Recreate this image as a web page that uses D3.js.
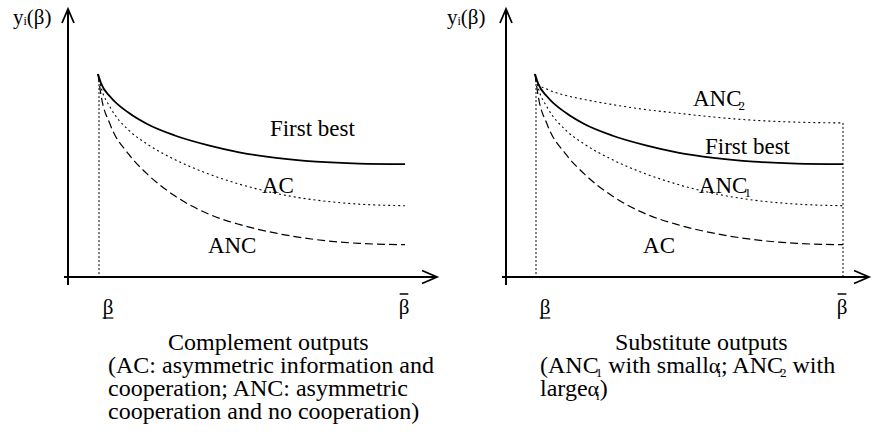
<!DOCTYPE html>
<html>
<head>
<meta charset="utf-8">
<script src="https://cdn.jsdelivr.net/npm/d3@7"></script>
<style>
  body { margin: 0; background: #fff; }
  svg text { font-family: "Liberation Serif", "Times New Roman", "DejaVu Serif", serif; fill: #000; }
</style>
</head>
<body>
<svg id="chart" width="872" height="446" font-family="Liberation Serif, Times New Roman, DejaVu Serif, serif"></svg>
<script>
// ── data (y in arbitrary units, 0 = x axis) ────────────────────────────────
const betaGrid   = [0, 0.01, 0.04, 0.1, 0.16, 0.25, 0.36, 0.46, 0.58, 0.71, 0.85, 1];
const firstBest  = [76, 72.5, 67.5, 61.5, 57.3, 53, 49.3, 46.7, 44.6, 43.2, 42.5, 42.3];
const midDotted  = [76, 71, 63.5, 55, 49.8, 44, 38.6, 34.8, 31.3, 28.8, 27.3, 26.7];   // AC (left) / ANC1 (right)
const lowDashed  = [76, 68, 57, 46, 38.6, 30.4, 23.6, 19.7, 16.4, 14, 12.6, 12.1];    // ANC (left) / AC (right)
const highDotted = [76, 72.3, 70.3, 68, 66.5, 64.6, 62.7, 61.4, 59.9, 58.7, 58.0, 57.7]; // ANC2 (right)

const leftCaption = ["Complement outputs", "(AC: asymmetric information and",
                     "cooperation; ANC: asymmetric", "cooperation and no cooperation)"];

// curve labels, placed in data space [beta, y]
const leftLabels = [
  { parts: ["First best"], at: [0.56, 52.8] },
  { parts: ["AC"],         at: [0.534, 31.5] },
  { parts: ["ANC"],        at: [0.358, 9.0] }
];
const rightLabels = [
  { parts: ["ANC", { sub: "2" }], at: [0.513, 64.0] },
  { parts: ["First best"],        at: [0.552, 46.1] },
  { parts: ["ANC", { sub: "1" }], at: [0.532, 31.5] },
  { parts: ["AC"],                at: [0.351, 9.0] }
];

// ── shared scales ───────────────────────────────────────────────────────
const svg = d3.select("#chart");
const yScale = d3.scaleLinear().domain([0, 100]).range([277, 10]);
const FONT = "Liberation Serif, Times New Roman, DejaVu Serif, serif";

const panels = [
  {
    axisX: 68, xRange: [98, 405], arrowEnd: 437, yLabelX: 13, endLine: false,
    curves: [
      { values: firstBest, dash: null,  width: 1.8 },
      { values: midDotted, dash: "2,3", width: 1.1 },
      { values: lowDashed, dash: "8,4", width: 1.2 }
    ],
    labels: leftLabels
  },
  {
    axisX: 506, xRange: [535, 843], arrowEnd: 869, yLabelX: 447, endLine: true,
    curves: [
      { values: highDotted, dash: "2,3", width: 1.1 },
      { values: firstBest,  dash: null,  width: 1.8 },
      { values: midDotted,  dash: "2,3", width: 1.1 },
      { values: lowDashed,  dash: "8,4", width: 1.2 }
    ],
    labels: rightLabels
  }
];

// text with subscripts that tuck under the previous glyph a little
function richText(g, x, y, parts, size) {
  const t = g.append("text").attr("x", x).attr("y", y)
    .attr("font-family", FONT).style("font-size", size + "px");
  let back = 0;
  parts.forEach(p => {
    if (typeof p === "string") {
      t.append("tspan").attr("dy", back).text(p);
      back = 0;
    } else if (p.sub) {
      t.append("tspan").attr("dx", -3).attr("dy", 4 + back)
        .style("font-size", Math.round(size * 0.55) + "px").text(p.sub);
      back = -4;
    } else if (p.greek) {
      t.append("tspan").attr("dy", back).style("font-size", (size - 2) + "px").text(p.greek);
      back = 0;
    }
  });
  return t;
}

panels.forEach(p => {
  const g = svg.append("g");
  const x = d3.scaleLinear().domain([0, 1]).range(p.xRange);
  const y0 = yScale(0);
  const yTop = yScale(100);

  // axes with open arrow heads
  g.append("path")
    .attr("d", `M${p.axisX},${y0 + 8} L${p.axisX},${yTop - 1}`)
    .attr("stroke", "#000").attr("stroke-width", 2).attr("fill", "none");
  g.append("path")
    .attr("d", `M${p.axisX - 6},${yTop + 13} L${p.axisX},${yTop - 1} L${p.axisX + 6},${yTop + 13}`)
    .attr("stroke", "#000").attr("stroke-width", 1.8).attr("fill", "none");
  g.append("path")
    .attr("d", `M${p.axisX - 4},${y0} L${p.arrowEnd},${y0}`)
    .attr("stroke", "#000").attr("stroke-width", 2).attr("fill", "none");
  g.append("path")
    .attr("d", `M${p.arrowEnd - 15},${y0 - 6.5} L${p.arrowEnd},${y0} L${p.arrowEnd - 15},${y0 + 6.5}`)
    .attr("stroke", "#000").attr("stroke-width", 1.8).attr("fill", "none");

  // dotted verticals at the beta bounds
  g.append("line")
    .attr("x1", x(0) + 1).attr("x2", x(0) + 1)
    .attr("y1", yScale(firstBest[0]) + 6).attr("y2", y0)
    .attr("stroke", "#000").attr("stroke-width", 1).attr("stroke-dasharray", "2,2");
  if (p.endLine) {
    g.append("line")
      .attr("x1", x(1)).attr("x2", x(1))
      .attr("y1", yScale(highDotted[highDotted.length - 1])).attr("y2", y0)
      .attr("stroke", "#000").attr("stroke-width", 1).attr("stroke-dasharray", "2,2");
  }

  // curves
  const line = d3.line()
    .x((d, i) => x(betaGrid[i]))
    .y(d => yScale(d))
    .curve(d3.curveMonotoneX);
  p.curves.forEach(c => {
    g.append("path")
      .attr("d", line(c.values))
      .attr("fill", "none")
      .attr("stroke", "#000")
      .attr("stroke-width", c.width)
      .attr("stroke-dasharray", c.dash);
  });

  // curve labels
  p.labels.forEach(l => richText(g, x(l.at[0]), yScale(l.at[1]), l.parts, 23));

  // y label  y_i(β)
  const yl = g.append("text").attr("x", p.yLabelX).attr("y", 24)
    .attr("font-family", FONT).style("font-size", "21px");
  yl.append("tspan").text("y");
  yl.append("tspan").style("font-size", "12px").attr("dy", 1).text("i");
  yl.append("tspan").attr("dy", -1).text("(β)");

  // beta bounds under the axis
  const bLow = g.append("text").attr("x", x(0) + 10).attr("y", 314)
    .attr("font-family", FONT).attr("text-anchor", "middle").style("font-size", "21px").text("β");
  const bb = bLow.node().getBBox();
  g.append("line").attr("x1", bb.x).attr("x2", bb.x + bb.width)
    .attr("y1", 318).attr("y2", 318).attr("stroke", "#000").attr("stroke-width", 1.2);
  const bHigh = g.append("text").attr("x", x(1) - 1).attr("y", 314)
    .attr("font-family", FONT).attr("text-anchor", "middle").style("font-size", "21px").text("β");
  const bh = bHigh.node().getBBox();
  g.append("line").attr("x1", bh.x + 1).attr("x2", bh.x + bh.width - 1)
    .attr("y1", 294).attr("y2", 294).attr("stroke", "#000").attr("stroke-width", 1.5);
});

// ── captions ─────────────────────────────────────────────────────────────
const capSize = 24, capLead = 23, capTop = 350;
const capG = svg.append("g");
leftCaption.forEach((s, i) => {
  capG.append("text")
    .attr("x", i === 0 ? 168 : 108)
    .attr("y", capTop + i * capLead)
    .attr("font-family", FONT)
    .style("font-size", capSize + "px")
    .text(s);
});

richText(capG, 615, capTop, ["Substitute outputs"], capSize);
richText(capG, 540, capTop + capLead,
  ["(ANC", { sub: "1" }, " with small", { greek: "α" }, { sub: "i" }, "; ANC", { sub: "2" }, " with"], capSize);
richText(capG, 540, capTop + 2 * capLead, ["large", { greek: "α" }, { sub: "i" }, ")"], capSize);
</script>
</body>
</html>
